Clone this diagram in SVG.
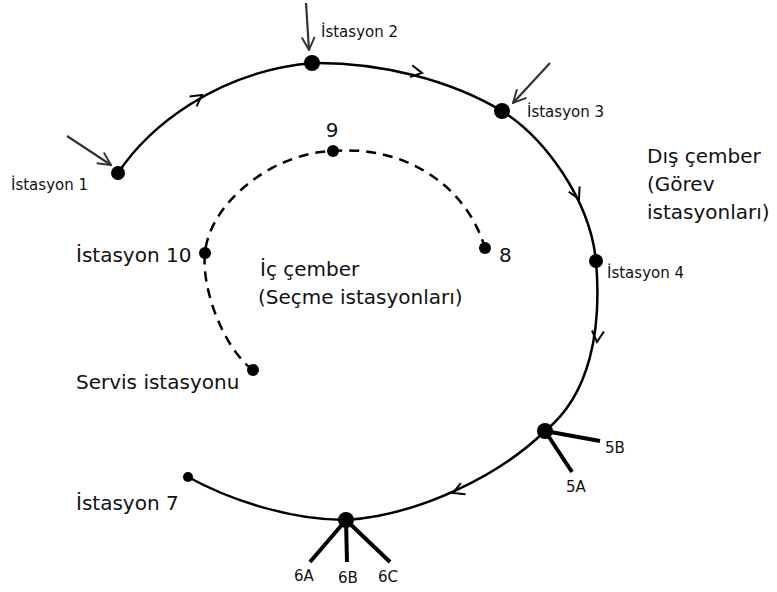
<svg xmlns="http://www.w3.org/2000/svg" width="777" height="592" viewBox="0 0 777 592">
<style>
  text { font-family: "DejaVu Sans", "Liberation Sans", sans-serif; fill: #111; }
  .sm { font-size: 15px; }
  .lg { font-size: 20px; }
  .outer { fill: none; stroke: #000; stroke-width: 2.5; }
  .inner { fill: none; stroke: #000; stroke-width: 2.5; stroke-dasharray: 10 7; }
  .chev { fill: none; stroke: #000; stroke-width: 2; stroke-linejoin: miter; }
  .in { fill: none; stroke: #333; stroke-width: 2.2; marker-end: url(#openarrow); }
  .spoke { stroke: #000; stroke-width: 4; }
  .dot { fill: #000; }
</style>
<defs>
  <marker id="openarrow" viewBox="0 0 12 12" refX="11" refY="6" markerWidth="7" markerHeight="7" orient="auto" markerUnits="strokeWidth">
    <path d="M1,1 L11,6 L1,11" fill="none" stroke="#333" stroke-width="1.5"/>
  </marker>
  <path id="chev" d="M-11,-6 L0,0 L-11,6" class="chev"/>
</defs>

<g id="connectors">
  <path class="outer" d="M118,173 C148,128 215,72 312,63 C380,62 450,80 502,111 C545,138 590,200 596,261 C602,330 590,395 545,431 C500,475 420,515 346,520 C290,520 230,500 188,477"/>
  <use href="#chev" transform="translate(202,95) rotate(-36)"/>
  <use href="#chev" transform="translate(422,73) rotate(10)"/>
  <use href="#chev" transform="translate(579,199) rotate(64)"/>
  <use href="#chev" transform="translate(597,342) rotate(95)"/>
  <use href="#chev" transform="translate(453,493) rotate(157)"/>
  <path class="inner" d="M253,370 C225,350 201,290 205,253 C209,205 270,153 333,151 C401,145 465,182 485,248"/>
  <line class="in" x1="67" y1="136" x2="111" y2="165"/>
  <line class="in" x1="306" y1="3" x2="309" y2="50"/>
  <line class="in" x1="550" y1="63" x2="513" y2="103"/>
</g>

<g id="istasyon1"><circle class="dot" cx="118" cy="173" r="7"/><text class="sm" x="11" y="190">İstasyon 1</text></g>
<g id="istasyon2"><circle class="dot" cx="312" cy="63" r="8"/><text class="sm" x="321" y="37">İstasyon 2</text></g>
<g id="istasyon3"><circle class="dot" cx="502" cy="111" r="8"/><text class="sm" x="527" y="117">İstasyon 3</text></g>
<g id="istasyon4"><circle class="dot" cx="596" cy="261" r="7"/><text class="sm" x="607" y="278">İstasyon 4</text></g>
<g id="istasyon5">
  <line class="spoke" x1="545" y1="431" x2="600" y2="441"/>
  <line class="spoke" x1="545" y1="431" x2="572" y2="472"/>
  <circle class="dot" cx="545" cy="431" r="8"/>
  <text class="sm" x="605" y="453">5B</text>
  <text class="sm" x="566" y="492">5A</text>
</g>
<g id="istasyon6">
  <line class="spoke" x1="346" y1="520" x2="310" y2="562"/>
  <line class="spoke" x1="346" y1="520" x2="347" y2="562"/>
  <line class="spoke" x1="346" y1="520" x2="390" y2="562"/>
  <circle class="dot" cx="346" cy="520" r="8"/>
  <text class="sm" x="294" y="581">6A</text>
  <text class="sm" x="338" y="583">6B</text>
  <text class="sm" x="378" y="582">6C</text>
</g>
<g id="istasyon7"><circle class="dot" cx="188" cy="477" r="5"/><text class="lg" x="76" y="510">İstasyon 7</text></g>
<g id="istasyon8"><circle class="dot" cx="485" cy="248" r="6"/><text class="lg" x="499" y="262">8</text></g>
<g id="istasyon9"><circle class="dot" cx="333" cy="151" r="6"/><text class="lg" x="332" y="137" text-anchor="middle">9</text></g>
<g id="istasyon10"><circle class="dot" cx="205" cy="253" r="6"/><text class="lg" x="76" y="262">İstasyon 10</text></g>
<g id="servis"><circle class="dot" cx="253" cy="370" r="6"/><text class="lg" x="76" y="389">Servis istasyonu</text></g>
<g id="ic-cember"><text class="lg" x="260" y="276">İç çember</text><text class="lg" x="258" y="304">(Seçme istasyonları)</text></g>
<g id="dis-cember"><text class="lg" x="647" y="163">Dış çember</text><text class="lg" x="647" y="191">(Görev</text><text class="lg" x="647" y="219">istasyonları)</text></g>
</svg>
